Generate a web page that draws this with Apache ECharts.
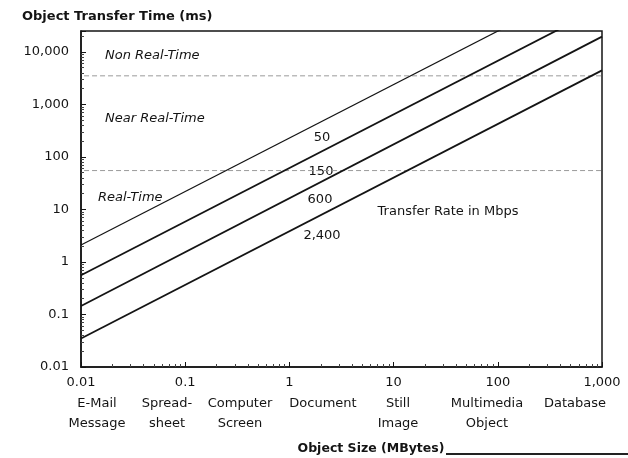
<!DOCTYPE html>
<html>
<head>
<meta charset="utf-8">
<script src="https://cdn.jsdelivr.net/npm/echarts@6/dist/echarts.min.js"></script>
<style>html,body{margin:0;padding:0;background:#fff;}#c{width:628px;height:458px;}</style>
</head>
<body>
<div id="c"></div>
<script>
// ---- data ----
const xRange = [0.01, 1000];            // object size, MBytes
const yRange = [0.01, 25000];           // transfer time, ms
const xTickLabels = ['0.01', '0.1', '1', '10', '100', '1,000'];
const yTickLabels = ['0.01', '0.1', '1', '10', '100', '1,000', '10,000'];
const rateNames = ['50', '150', '600', '2,400'];     // Mbps
const timeAtMinSize = [2.1, 0.56, 0.145, 0.035];     // ms at 0.01 MB
const timeAtMaxSize = [260000, 71000, 19500, 4450];  // ms at 1000 MB
const zoneBounds = [3500, 55];                       // ms, dashed boundaries
const zoneNames = ['Non Real-Time', 'Near Real-Time', 'Real-Time'];
const objectTypes = [['E-Mail', 'Message'], ['Spread-', 'sheet'], ['Computer', 'Screen'], ['Document'], ['Still', 'Image'], ['Multimedia', 'Object'], ['Database']];

const FONT = '"DejaVu Sans", sans-serif';
const INK = '#141414';

function labelFor(list, v) {
  const i = Math.round(Math.log10(v) + 2);
  if (Math.abs(Math.log10(v) + 2 - i) > 1e-6) return '';
  return list[i] || '';
}

const series = [];
rateNames.forEach((name, i) => {
  series.push({
    type: 'line', name: name, silent: true, symbol: 'none',
    data: [[xRange[0], timeAtMinSize[i]], [xRange[1], timeAtMaxSize[i]]],
    lineStyle: { color: INK, width: i === 0 ? 1.2 : 1.8 },
    clip: true, z: 3
  });
});
zoneBounds.forEach((b) => {
  series.push({
    type: 'line', silent: true, symbol: 'none',
    data: [[0.0107, b], [xRange[1], b]],
    lineStyle: { color: '#9a9a9a', width: 1, type: [5, 3] },
    z: 2
  });
});

// annotation texts
const txt = (x, y, text, opt) => Object.assign({
  type: 'text', x: x, y: y,
  style: Object.assign({ text: text, font: '13px ' + FONT, fill: INK, textAlign: 'left', textVerticalAlign: 'middle' }, opt || {})
});
const zonePos = [[105, 56], [105, 119], [98, 198]];
const ratePos = [[322, 138], [321, 172], [320, 200], [322, 236]];
const typePos = [97, 167, 240, 323, 398, 487, 575];

const graphics = [];
zoneNames.forEach((n, i) => graphics.push(txt(zonePos[i][0], zonePos[i][1], n, { font: 'italic 13px ' + FONT })));
rateNames.forEach((n, i) => graphics.push(txt(ratePos[i][0], ratePos[i][1], n, { textAlign: 'center' })));
graphics.push(txt(448, 212, 'Transfer Rate in Mbps', { textAlign: 'center' }));
objectTypes.forEach((lines, i) => {
  lines.forEach((l, j) => graphics.push(txt(typePos[i], 404 + j * 20, l, { textAlign: 'center' })));
});
graphics.push(txt(22, 17, 'Object Transfer Time (ms)', { font: 'bold 13px ' + FONT }));
graphics.push(txt(371, 449, 'Object Size (MBytes)', { font: 'bold 12.5px ' + FONT, textAlign: 'center' }));
graphics.push({ type: 'line', shape: { x1: 446, y1: 454, x2: 628, y2: 454 }, style: { stroke: '#222', lineWidth: 2 } });

const chart = echarts.init(document.getElementById('c'), null, { renderer: 'canvas' });
chart.setOption({
  animation: false,
  backgroundColor: '#fff',
  grid: { left: 81, right: 26, top: 31, bottom: 91, show: true, borderColor: INK, borderWidth: 1.5, backgroundColor: 'transparent' },
  xAxis: {
    type: 'log', min: xRange[0], max: xRange[1], logBase: 10,
    axisLine: { show: true, lineStyle: { color: INK, width: 1.5 } },
    axisTick: { show: true, inside: true, length: 5, lineStyle: { color: INK } },
    minorTick: { show: true, splitNumber: 9, length: 3, lineStyle: { color: '#444' } },
    splitLine: { show: false },
    axisLabel: { margin: 9, fontFamily: FONT, fontSize: 13, color: INK, formatter: (v) => labelFor(xTickLabels, v) }
  },
  yAxis: {
    type: 'log', min: yRange[0], max: yRange[1], logBase: 10,
    axisLine: { show: true, lineStyle: { color: INK, width: 1.5 } },
    axisTick: { show: true, inside: true, length: 5, lineStyle: { color: INK } },
    minorTick: { show: true, splitNumber: 9, length: 3, lineStyle: { color: '#444' } },
    splitLine: { show: false },
    axisLabel: { margin: 12, fontFamily: FONT, fontSize: 13, color: INK, showMaxLabel: false, formatter: (v) => labelFor(yTickLabels, v) }
  },
  series: series,
  graphic: graphics
});
</script>
</body>
</html>
